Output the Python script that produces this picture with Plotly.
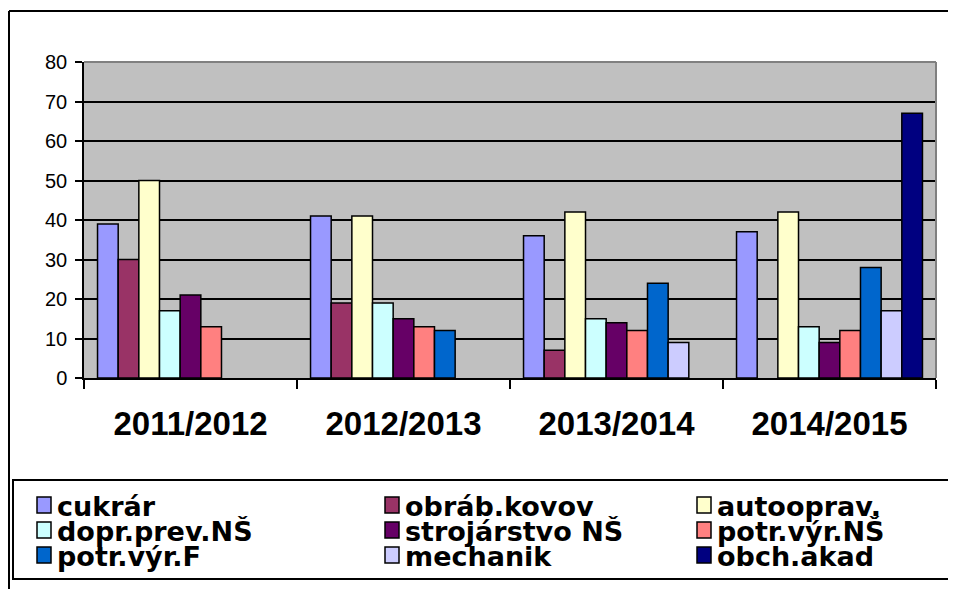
import plotly.graph_objects as go

categories = ["2011/2012", "2012/2013", "2013/2014", "2014/2015"]
series_names = ["cukrár", "obráb.kovov", "autooprav.", "dopr.prev.NŠ", "strojárstvo NŠ",
                "potr.výr.NŠ", "potr.výr.F", "mechanik", "obch.akad"]
cukrar = [39, 41, 36, 37]
obrab_kovov = [30, 19, 7, None]
autooprav = [50, 41, 42, 42]
dopr_prev_ns = [17, 19, 15, 13]
strojarstvo_ns = [21, 15, 14, 9]
potr_vyr_ns = [13, 13, 12, 12]
potr_vyr_f = [None, 12, 24, 28]
mechanik = [None, None, 9, 17]
obch_akad = [None, None, None, 67]
y_ticks = [0, 10, 20, 30, 40, 50, 60, 70, 80]

series_values = [cukrar, obrab_kovov, autooprav, dopr_prev_ns, strojarstvo_ns,
                 potr_vyr_ns, potr_vyr_f, mechanik, obch_akad]
colors = ["#9999FF", "#993366", "#FFFFCC", "#CCFFFF", "#660066",
          "#FF8080", "#0066CC", "#CCCCFF", "#000080"]

W, H = 956, 589
OFF = 8  # page body margin
# target plot area in page pixels: x 84..936, y 62..378
PX0, PX1, PY0, PY1 = 84, 936, 62, 378
L = PX0 - OFF
T = PY0 - OFF
PW = PX1 - PX0
PH = PY1 - PY0
R = W - L - PW
B = H - T - PH


def xp(px):
    return (px - PX0) / PW


def yp(py):
    return (PY1 - py) / PH


FONT = "Arial, Liberation Sans, sans-serif"
LEG_FONT = "DejaVu Sans, Verdana, sans-serif"

fig = go.Figure()
for name, vals, col in zip(series_names, series_values, colors):
    fig.add_trace(go.Bar(
        name=name, x=categories, y=vals,
        marker=dict(color=col, line=dict(color="black", width=1.5)),
        showlegend=False,
    ))

shapes = []
# outer chart border (top and left visible)
shapes.append(dict(type="line", xref="paper", yref="paper",
                   x0=xp(9), x1=xp(970), y0=yp(11), y1=yp(11),
                   line=dict(color="black", width=2)))
shapes.append(dict(type="line", xref="paper", yref="paper",
                   x0=xp(9), x1=xp(9), y0=yp(11), y1=yp(610),
                   line=dict(color="black", width=2)))
# plot area gray top/right border
shapes.append(dict(type="line", xref="paper", yref="paper",
                   x0=0, x1=1, y0=1, y1=1, line=dict(color="#808080", width=2)))
shapes.append(dict(type="line", xref="paper", yref="paper",
                   x0=1, x1=1, y0=0, y1=1, line=dict(color="#808080", width=2)))
# legend box
shapes.append(dict(type="rect", xref="paper", yref="paper",
                   x0=xp(13), x1=xp(985), y0=yp(480), y1=yp(579),
                   line=dict(color="black", width=2), fillcolor="rgba(0,0,0,0)"))

annotations = []
col_marker_x = [37, 385, 697]
row_y = [505, 530, 555]
mw, mh = 14, 16
for i, (name, col) in enumerate(zip(series_names, colors)):
    r, c = divmod(i, 3)
    mx, my = col_marker_x[c], row_y[r]
    shapes.append(dict(type="rect", xref="paper", yref="paper",
                       x0=xp(mx), x1=xp(mx + mw), y0=yp(my - mh / 2), y1=yp(my + mh / 2),
                       line=dict(color="black", width=1.5), fillcolor=col))
    annotations.append(dict(xref="paper", yref="paper", x=xp(mx + mw + 4), y=yp(my + 1),
                            xanchor="left", yanchor="middle", showarrow=False,
                            text="<b>%s</b>" % name,
                            font=dict(family=LEG_FONT, size=27, color="black")))

fig.update_layout(
    width=W, height=H,
    margin=dict(l=L, r=R, t=T, b=B),
    paper_bgcolor="white", plot_bgcolor="#C0C0C0",
    barmode="group", bargap=0.127, bargroupgap=0,
    shapes=shapes, annotations=annotations,
    showlegend=False,
    xaxis=dict(type="category", range=[-0.5, 3.5], tickson="boundaries",
               ticks="outside", ticklen=9, tickwidth=1.5, tickcolor="black",
               showline=True, linecolor="black", linewidth=1.5,
               showgrid=False, ticklabelstandoff=16,
               tickfont=dict(family=FONT, size=33, color="black"),
               tickvals=categories, ticktext=["<b>%s</b>" % c for c in categories]),
    yaxis=dict(range=[0, 80], tickvals=y_ticks, ticks="outside", ticklen=7,
               tickwidth=1.5, tickcolor="black", showline=True, linecolor="black",
               linewidth=1.5, showgrid=True, gridcolor="black", gridwidth=1.5,
               zeroline=False, ticklabelstandoff=4,
               tickfont=dict(family=FONT, size=20, color="black")),
)

fig.write_html("out.html")
